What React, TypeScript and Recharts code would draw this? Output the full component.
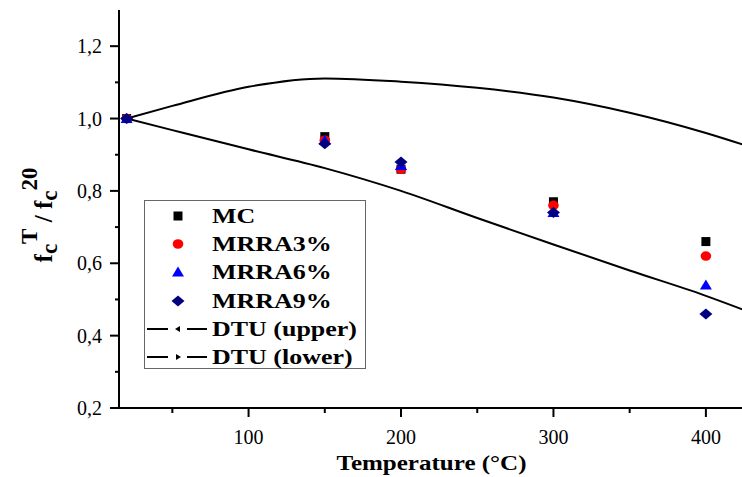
import { ComposedChart, Line, Scatter, XAxis, YAxis, Legend, Label } from 'recharts';

// measured points (temperature °C -> fcT / fc20)
const temps = [20, 150, 200, 300, 400];
const mcValues = [1.0, 0.95, 0.86, 0.77, 0.66];
const mrra3Values = [1.0, 0.94, 0.86, 0.76, 0.62];
const mrra6Values = [1.0, 0.94, 0.87, 0.74, 0.54];
const mrra9Values = [1.0, 0.93, 0.88, 0.74, 0.46];

// DTU envelope curves
const dtuTemps = [20, 50, 100, 150, 200, 250, 300, 350, 400, 425];
const dtuUpper = [1.0, 1.035, 1.088, 1.111, 1.102, 1.085, 1.058, 1.016, 0.96, 0.927];
const dtuLower = [1.0, 0.968, 0.915, 0.863, 0.8, 0.725, 0.652, 0.58, 0.51, 0.471];

const seriesNames = ['MC', 'MRRA3%', 'MRRA6%', 'MRRA9%', 'DTU (upper)', 'DTU (lower)'];

const xMajorTicks = [100, 200, 300, 400];
const xMinorTicks = [50, 150, 250, 350];
const yMajorTicks = [0.2, 0.4, 0.6, 0.8, 1.0, 1.2];
const yMinorTicks = [0.3, 0.5, 0.7, 0.9, 1.1];

const toPoints = (xs: number[], ys: number[]) => xs.map((x, i) => ({ x, y: ys[i] }));

const FONT = '"Liberation Serif", "Times New Roman", serif';
const xTicks = [...xMinorTicks, ...xMajorTicks].sort((a, b) => a - b);
const yTicks = [...yMinorTicks, ...yMajorTicks].sort((a, b) => a - b);
const isMajorX = (v: number) => xMajorTicks.includes(v);
const isMajorY = (v: number) => yMajorTicks.some((t) => Math.abs(t - v) < 1e-6);

function BottomTick({ x, y, payload }: any) {
  const major = isMajorX(payload.value);
  return (
    <g>
      <line x1={x} y1={y} x2={x} y2={y + (major ? 9 : 5)} stroke="#000" strokeWidth={2} />
      {major && (
        <text x={x} y={y + 36} textAnchor="middle" fontSize={20} fontFamily={FONT} fill="#000">
          {payload.value}
        </text>
      )}
    </g>
  );
}

function TopTick({ x, y, payload }: any) {
  const major = isMajorX(payload.value);
  return <line x1={x} y1={y} x2={x} y2={y + (major ? 7 : 4)} stroke="#000" strokeWidth={2} />;
}

function LeftTick({ x, y, payload }: any) {
  const major = isMajorY(payload.value);
  return (
    <g>
      <line x1={x - (major ? 9 : 4)} y1={y} x2={x} y2={y} stroke="#000" strokeWidth={2} />
      {major && (
        <text x={x - 17} y={y + 7} textAnchor="end" fontSize={20} fontFamily={FONT} fill="#000">
          {payload.value.toFixed(1).replace('.', ',')}
        </text>
      )}
    </g>
  );
}

function RightTick({ x, y, payload }: any) {
  const major = isMajorY(payload.value);
  return <line x1={x - (major ? 7 : 4)} y1={y} x2={x} y2={y} stroke="#000" strokeWidth={2} />;
}

function YTitle({ viewBox }: any) {
  const cx = viewBox.x - 7;
  const cy = viewBox.y + viewBox.height / 2 + 6;
  return (
    <text
      transform={`translate(${cx},${cy}) rotate(-90)`}
      textAnchor="middle"
      fontFamily={FONT}
      fontWeight="bold"
      fontSize={25}
      fill="#000"
    >
      <tspan>f</tspan>
      <tspan fontSize={23} dy={5}>c</tspan>
      <tspan fontSize={23} dy={-20}>T</tspan>
      <tspan dy={15}> / f</tspan>
      <tspan fontSize={23} dy={5}>c</tspan>
      <tspan fontSize={23} dy={-20}>20</tspan>
    </text>
  );
}

const square = ({ cx, cy }: any) => <rect x={cx - 4.5} y={cy - 4.5} width={9} height={9} fill="#000" />;
const circle = ({ cx, cy }: any) => <ellipse cx={cx} cy={cy} rx={5.3} ry={4.8} fill="#ff0000" />;
const triangle = ({ cx, cy }: any) => (
  <polygon points={`${cx - 6},${cy + 4.5} ${cx + 6},${cy + 4.5} ${cx},${cy - 5.5}`} fill="#0000ff" />
);
const diamond = ({ cx, cy }: any) => (
  <polygon points={`${cx - 6.5},${cy} ${cx},${cy - 5.5} ${cx + 6.5},${cy} ${cx},${cy + 5.5}`} fill="#000080" />
);

function LegendMarker({ i }: { i: number }) {
  const c = 33;
  const m = 14;
  if (i === 0) return <rect x={c - 4.5} y={m - 4.5} width={9} height={9} fill="#000" />;
  if (i === 1) return <ellipse cx={c} cy={m} rx={5.3} ry={4.8} fill="#ff0000" />;
  if (i === 2) return <polygon points={`${c - 6},${m + 4.5} ${c + 6},${m + 4.5} ${c},${m - 5.5}`} fill="#0000ff" />;
  if (i === 3) return <polygon points={`${c - 6.5},${m} ${c},${m - 5.5} ${c + 6.5},${m} ${c},${m + 5.5}`} fill="#000080" />;
  const dir = i === 4 ? -1 : 1;
  return (
    <g>
      <line x1={2} y1={m} x2={23} y2={m} stroke="#000" strokeWidth={2} />
      <line x1={42} y1={m} x2={62} y2={m} stroke="#000" strokeWidth={2} />
      <polygon points={`${c + dir * 3},${m} ${c - dir * 2},${m - 3} ${c - dir * 2},${m + 3}`} fill="#000" />
    </g>
  );
}

function LegendBox() {
  return (
    <div
      style={{
        width: 222,
        height: 169,
        boxSizing: 'border-box',
        border: '1.5px solid #666',
        background: '#fff',
        fontFamily: FONT,
        fontWeight: 'bold',
        fontSize: 22,
        color: '#000',
        paddingTop: 1,
      }}
    >
      {seriesNames.map((name, i) => (
        <div key={name} style={{ height: 28.2, display: 'flex', alignItems: 'center' }}>
          <svg width={67} height={28} style={{ flex: 'none' }}>
            <LegendMarker i={i} />
          </svg>
          <span style={{ display: 'inline-block', transform: 'scaleX(1.18)', transformOrigin: 'left center', lineHeight: 1, whiteSpace: 'nowrap' }}>
            {name}
          </span>
        </div>
      ))}
    </div>
  );
}

export default function App() {
  return (
    <div style={{ position: 'absolute', left: 0, top: 0, width: 742, height: 477, overflow: 'hidden', background: '#fff' }}>
      <ComposedChart width={746} height={477} margin={{ top: 10, right: 2, bottom: 29, left: 59 }}>
        <XAxis
          xAxisId="x"
          dataKey="x"
          type="number"
          domain={[15, 425]}
          allowDataOverflow
          ticks={xTicks}
          interval={0}
          height={40}
          tickSize={0}
          tickMargin={0}
          tickLine={false}
          axisLine={{ stroke: '#000', strokeWidth: 2 }}
          tick={<BottomTick />}
        >
          <Label
            content={({ viewBox }: any) => (
              <text
                x={viewBox.x + viewBox.width / 2 + 0}
                y={viewBox.y + 62}
                textAnchor="middle"
                fontFamily={FONT}
                fontWeight="bold"
                fontSize={22}
                textLength={190}
                lengthAdjust="spacingAndGlyphs"
                fill="#000"
              >
                Temperature (°C)
              </text>
            )}
          />
        </XAxis>
        <XAxis
          xAxisId="xt"
          orientation="top"
          type="number"
          domain={[15, 425]}
          allowDataOverflow
          ticks={xTicks}
          interval={0}
          height={0}
          tickSize={0}
          tickMargin={0}
          tickLine={false}
          axisLine={{ stroke: '#000', strokeWidth: 2 }}
          tick={<TopTick />}
        />
        <YAxis
          yAxisId="y"
          dataKey="y"
          type="number"
          domain={[0.2, 1.3]}
          allowDataOverflow
          ticks={yTicks}
          interval={0}
          width={60}
          tickSize={0}
          tickMargin={0}
          tickLine={false}
          axisLine={{ stroke: '#000', strokeWidth: 2 }}
          tick={<LeftTick />}
        >
          <Label content={<YTitle />} />
        </YAxis>
        <YAxis
          yAxisId="yr"
          orientation="right"
          type="number"
          domain={[0.2, 1.3]}
          allowDataOverflow
          ticks={yTicks}
          interval={0}
          width={0}
          tickSize={0}
          tickMargin={0}
          tickLine={false}
          axisLine={{ stroke: '#000', strokeWidth: 2 }}
          tick={<RightTick />}
        />
        <Legend
          layout="vertical"
          align="center"
          verticalAlign="middle"
          wrapperStyle={{ left: 144, top: 200, width: 222 }}
          content={<LegendBox />}
        />
        <Line
          xAxisId="x"
          yAxisId="y"
          data={toPoints(dtuTemps, dtuUpper)}
          dataKey="y"
          name={seriesNames[4]}
          type="monotone"
          stroke="#000"
          strokeWidth={2}
          dot={false}
          isAnimationActive={false}
        />
        <Line
          xAxisId="x"
          yAxisId="y"
          data={toPoints(dtuTemps, dtuLower)}
          dataKey="y"
          name={seriesNames[5]}
          type="monotone"
          stroke="#000"
          strokeWidth={2}
          dot={false}
          isAnimationActive={false}
        />
        <Scatter xAxisId="x" yAxisId="y" name={seriesNames[0]} data={toPoints(temps, mcValues)} shape={square} isAnimationActive={false} />
        <Scatter xAxisId="x" yAxisId="y" name={seriesNames[1]} data={toPoints(temps, mrra3Values)} shape={circle} isAnimationActive={false} />
        <Scatter xAxisId="x" yAxisId="y" name={seriesNames[2]} data={toPoints(temps, mrra6Values)} shape={triangle} isAnimationActive={false} />
        <Scatter xAxisId="x" yAxisId="y" name={seriesNames[3]} data={toPoints(temps, mrra9Values)} shape={diamond} isAnimationActive={false} />
      </ComposedChart>
    </div>
  );
}
